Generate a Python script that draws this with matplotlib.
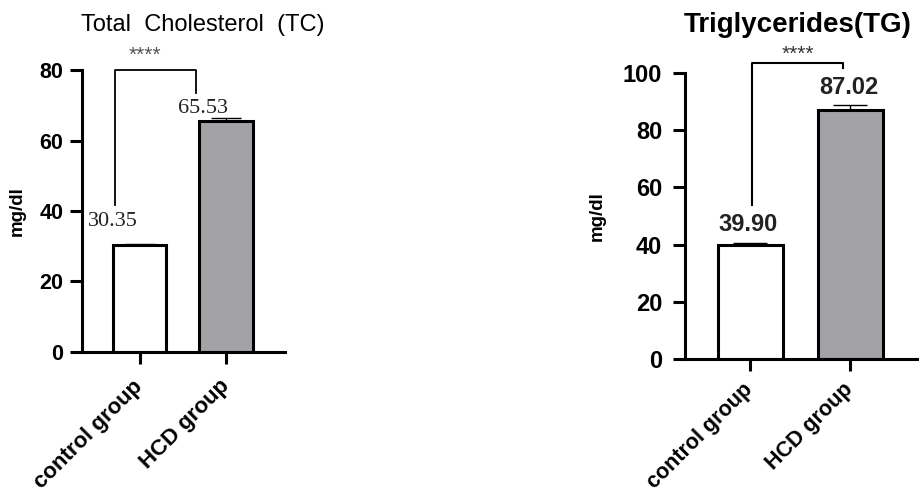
import matplotlib
matplotlib.use("Agg")
import matplotlib.pyplot as plt

# data
groups = ["control group", "HCD group"]
tc_means = [30.35, 65.53]
tc_err = [0.4, 0.8]
tg_means = [39.90, 87.02]
tg_err = [0.5, 1.8]

bar_colors = ["white", "#a2a2a7"]
plt.rcParams["font.family"] = ["Liberation Sans", "DejaVu Sans"]

fig = plt.figure(figsize=(9.2, 4.98), dpi=100)
ax1 = fig.add_axes([0.0891, 0.2932, 0.2207, 0.5662])
ax2 = fig.add_axes([0.7446, 0.2791, 0.2522, 0.5743])


def style_axis(ax, ymax, step, ysize, xsize, lpad, ypad, xpad):
    ax.set_ylim(0, ymax)
    ax.set_yticks(range(0, ymax + 1, step))
    for s in ["top", "right"]:
        ax.spines[s].set_visible(False)
    for s in ["left", "bottom"]:
        ax.spines[s].set_linewidth(2.2)
    ax.tick_params(axis="both", width=2.2, length=8.5, labelsize=ysize)
    ax.tick_params(axis="y", pad=ypad)
    ax.tick_params(axis="x", pad=xpad)
    ax.set_xticks([0, 1])
    ax.set_xticklabels(groups, rotation=45, ha="right", va="center",
                       rotation_mode="anchor", fontsize=xsize, fontweight="bold")
    for lab in ax.get_yticklabels():
        lab.set_fontweight("bold")
    ax.set_ylabel("mg/dl", fontsize=13.5, fontweight="bold", labelpad=lpad)


# left panel: total cholesterol
ax1.bar([0, 1], tc_means, width=0.62, color=bar_colors, edgecolor="black",
        linewidth=2.2, zorder=2)
ax1.errorbar([0, 1], tc_means, yerr=[[0, 0], tc_err], fmt="none", ecolor="black",
             elinewidth=1, capsize=11, capthick=1, zorder=1)
ax1.set_xlim(-0.665, 1.68)
style_axis(ax1, 80, 20, 15.5, 16, 10, 5, 14)
ax1.plot([-0.283, -0.283, 0.653, 0.653], [41.7, 80, 80, 73.5], color="black",
         lw=1.3, clip_on=False)
ax1.text(0.064, 84.3, "****", ha="center", va="center", fontsize=15, color="#555555")
ax1.text(-0.306, 37.0, f"{tc_means[0]:.2f}", ha="center", va="center",
         fontsize=16, family="Liberation Serif", color="#222222")
ax1.text(0.734, 69.2, f"{tc_means[1]:.2f}", ha="center", va="center",
         fontsize=16, family="Liberation Serif", color="#222222")
fig.text(0.2207, 0.949, "Total  Cholesterol  (TC)", ha="center", va="center",
         fontsize=17)

# right panel: triglycerides
ax2.bar([0, 1], tg_means, width=0.65, color=bar_colors, edgecolor="black",
        linewidth=2.2, zorder=2)
ax2.errorbar([0, 1], tg_means, yerr=[[0, 0], tg_err], fmt="none", ecolor="black",
             elinewidth=1, capsize=12, capthick=1, zorder=1)
ax2.set_xlim(-0.65, 1.67)
style_axis(ax2, 100, 20, 17, 15.5, 12, 8, 11)
ax2.plot([0.02, 0.02, 0.93, 0.93], [53.8, 103.5, 103.5, 101.7], color="black",
         lw=1.5, clip_on=False)
ax2.text(0.48, 106.5, "****", ha="center", va="center", fontsize=15, color="#333333")
ax2.text(-0.02, 46.9, f"{tg_means[0]:.2f}", ha="center", va="center",
         fontsize=17, fontweight="bold", color="#222222")
ax2.text(0.99, 95.1, f"{tg_means[1]:.2f}", ha="center", va="center",
         fontsize=17, fontweight="bold", color="#222222")
fig.text(0.867, 0.949, "Triglycerides(TG)", ha="center", va="center",
         fontsize=20, fontweight="bold")

fig.savefig("out.png", dpi=100)
